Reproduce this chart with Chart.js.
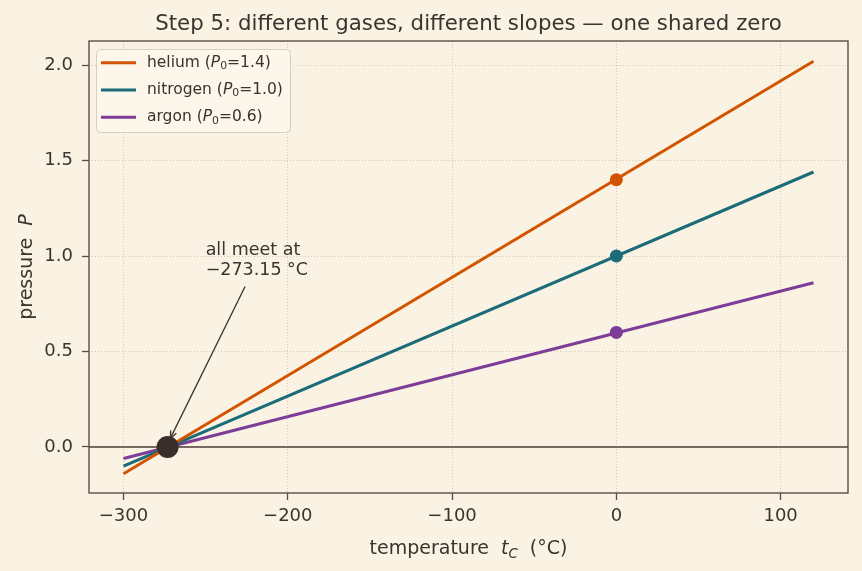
<!DOCTYPE html>
<html lang="en">
<head>
    <meta charset="UTF-8">
    <title>Step 5: different gases</title>
    <script src="https://cdn.jsdelivr.net/npm/chart.js"></script>
    <style>
        body { margin: 0; background: #faf3e3; }
        #wrap { width: 862px; height: 571px; }
    </style>
</head>
<body>
    <div id="wrap"><canvas id="myChart"></canvas></div>
<script>
    // values
    const lineX = [-300, 120];
    const heliumY = [-0.14, 2.02];
    const nitrogenY = [-0.10, 1.44];
    const argonY = [-0.06, 0.86];
    const markerX = [0];
    const heliumP0 = [1.4];
    const nitrogenP0 = [1.0];
    const argonP0 = [0.6];
    const zeroX = [-273.15];
    const zeroY = [0];
    const xTicks = [-300, -200, -100, 0, 100];
    const yTicks = [0.0, 0.5, 1.0, 1.5, 2.0];
    const gasNames = ['helium', 'nitrogen', 'argon'];
    const gasP0Labels = ['1.4', '1.0', '0.6'];

    const cHe = '#d35400';
    const cN = '#1b6c78';
    const cAr = '#7d3c98';
    const ink = '#3b3330';
    const spine = '#5a4e44';
    const fontFam = '"DejaVu Sans", sans-serif';

    function pts(xs, ys) {
        return xs.map((x, i) => ({ x: x, y: ys[i] }));
    }
    function minus(s) { return String(s).replace('-', '\u2212'); }

    function lineSet(data, color) {
        return { data: data, showLine: true, borderColor: color, backgroundColor: color,
            borderWidth: 3, pointRadius: 0, pointHoverRadius: 0, order: 2 };
    }
    function dotSet(data, color, r) {
        return { data: data, showLine: false, borderColor: color, backgroundColor: color,
            pointRadius: r, pointHoverRadius: r, borderWidth: 0, order: 1 };
    }

    // text with italic symbol + subscript
    function richText(ctx, parts, x, y, size) {
        parts.forEach(p => {
            let s = size, dy = 0;
            if (p.sub) { s = size * 0.7; dy = size * 0.22; }
            ctx.font = (p.it ? 'italic ' : '') + s + 'px ' + fontFam;
            ctx.fillText(p.t, x, y + dy);
            x += ctx.measureText(p.t).width;
        });
        return x;
    }
    function richWidth(ctx, parts, size) {
        let w = 0;
        parts.forEach(p => {
            let s = p.sub ? size * 0.7 : size;
            ctx.font = (p.it ? 'italic ' : '') + s + 'px ' + fontFam;
            w += ctx.measureText(p.t).width;
        });
        return w;
    }

    const extras = {
        id: 'extras',
        beforeDatasetsDraw(chart) {
            const ctx = chart.ctx, a = chart.chartArea;
            const y0 = chart.scales.y.getPixelForValue(0);
            ctx.save();
            ctx.strokeStyle = '#4a3f38';
            ctx.lineWidth = 1.4;
            ctx.beginPath();
            ctx.moveTo(a.left, y0);
            ctx.lineTo(a.right, y0);
            ctx.stroke();
            ctx.restore();
        },
        afterDraw(chart) {
            const ctx = chart.ctx, a = chart.chartArea;
            const xs = chart.scales.x, ys = chart.scales.y;
            ctx.save();
            // frame
            ctx.strokeStyle = spine;
            ctx.lineWidth = 1.4;
            ctx.strokeRect(a.left, a.top, a.right - a.left, a.bottom - a.top);

            // title
            ctx.fillStyle = ink;
            ctx.textAlign = 'center';
            ctx.textBaseline = 'alphabetic';
            ctx.font = '21.3px ' + fontFam;
            ctx.fillText('Step 5: different gases, different slopes \u2014 one shared zero', (a.left + a.right) / 2, 29.5);

            // x axis title
            ctx.textAlign = 'left';
            const xt = [{ t: 'temperature  ' }, { t: 't', it: true }, { t: 'C', it: true, sub: true }, { t: '  (\u00b0C)' }];
            const xw = richWidth(ctx, xt, 19);
            richText(ctx, xt, (a.left + a.right) / 2 - xw / 2, 553.5, 19);

            // y axis title
            ctx.save();
            ctx.translate(32, (a.top + a.bottom) / 2);
            ctx.rotate(-Math.PI / 2);
            const yt = [{ t: 'pressure  ' }, { t: 'P', it: true }];
            const yw = richWidth(ctx, yt, 19);
            richText(ctx, yt, -yw / 2, 0, 19);
            ctx.restore();

            // annotation
            ctx.font = '17.5px ' + fontFam;
            const tx = xs.getPixelForValue(-250);
            ctx.fillText('all meet at', tx, 255);
            ctx.fillText('\u2212273.15 \u00b0C', tx, 275);
            const sx = xs.getPixelForValue(-226), sy = ys.getPixelForValue(0.84);
            const ex = xs.getPixelForValue(-271.5), ey = ys.getPixelForValue(0.045);
            ctx.strokeStyle = ink;
            ctx.lineWidth = 1.3;
            ctx.beginPath();
            ctx.moveTo(sx, sy);
            ctx.lineTo(ex, ey);
            ctx.stroke();
            const ang = Math.atan2(ey - sy, ex - sx);
            ctx.beginPath();
            ctx.moveTo(ex - 8 * Math.cos(ang - 0.4), ey - 8 * Math.sin(ang - 0.4));
            ctx.lineTo(ex, ey);
            ctx.lineTo(ex - 8 * Math.cos(ang + 0.4), ey - 8 * Math.sin(ang + 0.4));
            ctx.stroke();

            // legend
            const lx = 96, ly = 49, lw = 194, lh = 83;
            ctx.fillStyle = 'rgba(251,246,236,0.85)';
            ctx.strokeStyle = '#d6cebf';
            ctx.lineWidth = 1;
            ctx.beginPath();
            ctx.roundRect(lx + 0.5, ly + 0.5, lw, lh, 4);
            ctx.fill();
            ctx.stroke();
            const cols = [cHe, cN, cAr];
            const rows = [62.7, 90, 117.3];
            gasNames.forEach((g, i) => {
                ctx.strokeStyle = cols[i];
                ctx.lineWidth = 3;
                ctx.beginPath();
                ctx.moveTo(101, rows[i]);
                ctx.lineTo(136, rows[i]);
                ctx.stroke();
                ctx.fillStyle = ink;
                ctx.textBaseline = 'middle';
                richText(ctx, [{ t: g + ' (' }, { t: 'P', it: true }, { t: '0', sub: true }, { t: '=' + gasP0Labels[i] + ')' }], 147, rows[i], 15.5);
            });
            ctx.restore();
        }
    };

    const tickFont = { family: fontFam, size: 18 };

    new Chart(document.getElementById('myChart'), {
        type: 'scatter',
        data: {
            datasets: [
                lineSet(pts(lineX, heliumY), cHe),
                lineSet(pts(lineX, nitrogenY), cN),
                lineSet(pts(lineX, argonY), cAr),
                dotSet(pts(markerX, heliumP0), cHe, 6.5),
                dotSet(pts(markerX, nitrogenP0), cN, 6.5),
                dotSet(pts(markerX, argonP0), cAr, 6.5),
                dotSet(pts(zeroX, zeroY), '#3a2e2a', 11)
            ]
        },
        plugins: [extras],
        options: {
            responsive: true,
            maintainAspectRatio: false,
            animation: false,
            layout: { padding: { top: 41, right: 14, left: 0, bottom: 0 } },
            plugins: {
                legend: { display: false },
                tooltip: { enabled: false },
                title: { display: false }
            },
            scales: {
                x: {
                    type: 'linear',
                    min: -321,
                    max: 141,
                    afterFit(scale) { scale.height = 78; },
                    afterBuildTicks(scale) { scale.ticks = xTicks.map(v => ({ value: v })); },
                    border: { display: false, dash: [1, 2] },
                    grid: { color: '#c9bfad', lineWidth: 0.8, tickLength: 7, tickColor: spine, tickBorderDash: [], tickWidth: 1.3 },
                    ticks: {
                        color: ink, font: tickFont, padding: 6, maxRotation: 0,
                        callback: v => minus(v)
                    }
                },
                y: {
                    type: 'linear',
                    min: -0.241,
                    max: 2.126,
                    afterFit(scale) { scale.width = 89; },
                    afterBuildTicks(scale) { scale.ticks = yTicks.map(v => ({ value: v })); },
                    border: { display: false, dash: [1, 2] },
                    grid: { color: '#c9bfad', lineWidth: 0.8, tickLength: 7, tickColor: spine, tickBorderDash: [], tickWidth: 1.3 },
                    ticks: {
                        color: ink, font: tickFont, padding: 9,
                        callback: v => minus(v.toFixed(1))
                    }
                }
            }
        }
    });
</script>
</body>
</html>
